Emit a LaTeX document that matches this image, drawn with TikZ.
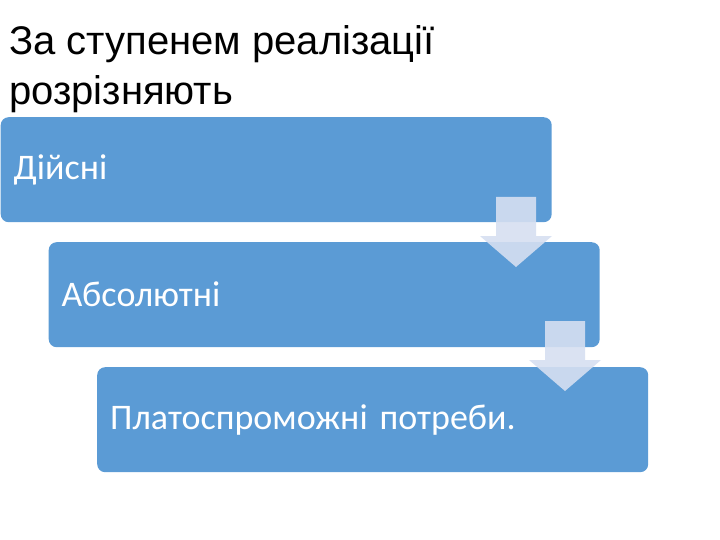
\documentclass[tikz,border=0pt]{standalone}
\usepackage{fontspec}
\setmainfont{Liberation Sans}
\newfontfamily\boxfont{Carlito}
\usetikzlibrary{positioning}

\definecolor{levelblue}{RGB}{91,155,213}
\definecolor{arrowfill}{RGB}{214,223,241}

\tikzset{
  levelbox/.style={fill=levelblue, rounded corners=8pt, minimum width=551pt,
    minimum height=105pt, inner xsep=13pt, text width=525pt, align=left,
    text=white, font=\boxfont\fontsize{36}{40}\selectfont},
  levelarrow/.style={fill=arrowfill, fill opacity=0.9, draw=none}
}

\begin{document}
\begin{tikzpicture}[x=1pt, y=-1pt]
    \useasboundingbox (0,0) rectangle (720,540);

    % Title
    \node [anchor=base west, inner sep=0pt, align=left,
           font=\fontsize{40}{50}\selectfont] (title) at (9,105)
          {За ступенем реалізації\\розрізняють};

    % Levels
    \node [levelbox, anchor=north west] (box1) at (0.5,117) {Дійсні};
    \node [levelbox, anchor=north west] (box2) at (48.5,242) {Абсолютні};
    \node [levelbox, anchor=north west] (box3) at (97,367) {Платоспроможні потреби.};

    % Down arrows between the levels
    \foreach \cx/\top in {516/197, 565/321}
      \fill [levelarrow] (\cx-20,\top) -- (\cx+20,\top) -- (\cx+20,\top+39)
            -- (\cx+36,\top+39) -- (\cx,\top+70) -- (\cx-36,\top+39)
            -- (\cx-20,\top+39) -- cycle;
  \end{tikzpicture}
\end{document}
